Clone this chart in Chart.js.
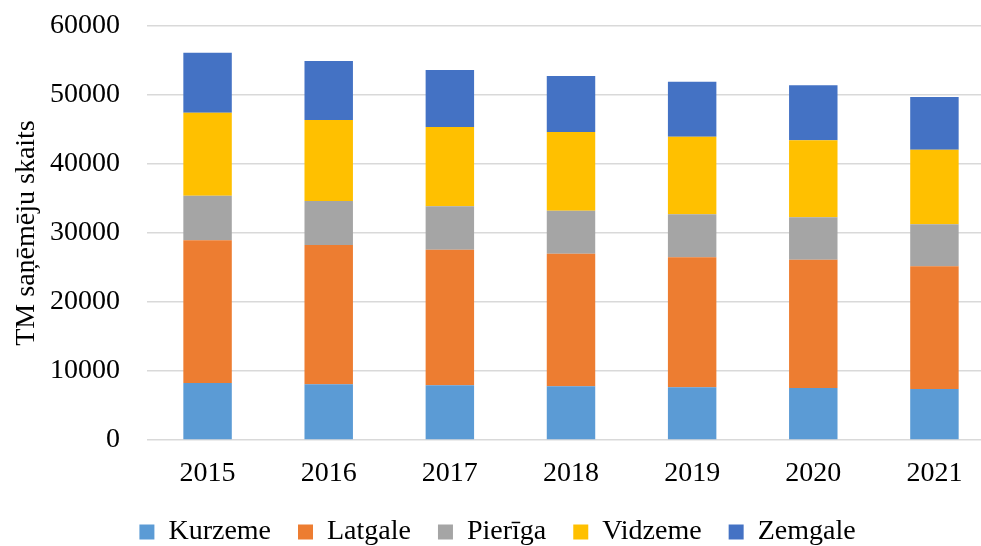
<!DOCTYPE html>
<html>
<head>
<meta charset="utf-8">
<script src="https://cdn.jsdelivr.net/npm/chart.js@4/dist/chart.umd.min.js"></script>
<style>
  html, body { margin: 0; padding: 0; overflow: hidden; background: #ffffff; }
  #wrap { width: 1000px; height: 556px; }
</style>
</head>
<body>
<div id="wrap"><canvas id="c" width="1000" height="556"></canvas></div>
<script>
const years = ["2015", "2016", "2017", "2018", "2019", "2020", "2021"];
const kurzeme = [8260, 8070, 7920, 7780, 7630, 7540, 7390];
const latgale = [20680, 20190, 19660, 19220, 18840, 18600, 17780];
const pieriga = [6470, 6380, 6290, 6230, 6230, 6130, 6090];
const vidzeme = [12020, 11740, 11490, 11410, 11260, 11160, 10810];
const zemgale = [8700, 8550, 8260, 8110, 7970, 7970, 7640];
const yTicks = [0, 10000, 20000, 30000, 40000, 50000, 60000];
const yTitle = "TM saņēmēju skaits";

const FONT = '"Liberation Serif", "Times New Roman", serif';

const ds = (label, data, color) => ({
  label, data, backgroundColor: color, borderWidth: 0,
  barPercentage: 0.4, categoryPercentage: 1.0, stack: "s"
});

new Chart(document.getElementById("c"), {
  type: "bar",
  data: {
    labels: years,
    datasets: [
      ds("Kurzeme", kurzeme, "#5b9bd5"),
      ds("Latgale", latgale, "#ed7d31"),
      ds("Pierīga", pieriga, "#a5a5a5"),
      ds("Vidzeme", vidzeme, "#ffc000"),
      ds("Zemgale", zemgale, "#4472c4")
    ]
  },
  options: {
    responsive: false,
    animation: false,
    devicePixelRatio: 1,
    layout: { padding: { top: 26, right: 5, bottom: 0, left: 0 } },
    plugins: {
      tooltip: { enabled: false },
      legend: {
        position: "bottom",
        align: "center",
        labels: {
          boxWidth: 15, boxHeight: 15, padding: 27,
          color: "#000000",
          font: { family: FONT, size: 28 }
        }
      }
    },
    scales: {
      x: {
        stacked: true,
        grid: { display: false, drawTicks: false },
        border: { display: false },
        ticks: { color: "#000000", padding: 17, font: { family: FONT, size: 28 } },
        afterFit: (s) => { s.height = 51; }
      },
      y: {
        stacked: true,
        min: 0, max: 60000,
        afterBuildTicks: (s) => { s.ticks = yTicks.map(v => ({ value: v })); },
        grid: { color: "#d9d9d9", lineWidth: 1.5, drawTicks: false },
        border: { display: false },
        ticks: {
          color: "#000000", padding: 27, font: { family: FONT, size: 28 },
          callback: (v) => String(v)
        },
        title: {
          display: true, text: yTitle, color: "#000000",
          font: { family: FONT, size: 28 },
          padding: { top: 10, bottom: 0 }
        },
        afterFit: (s) => { s.width = 147; s.paddingTop = 0; s.paddingBottom = 0; }
      }
    }
  }
});
</script>
</body>
</html>
